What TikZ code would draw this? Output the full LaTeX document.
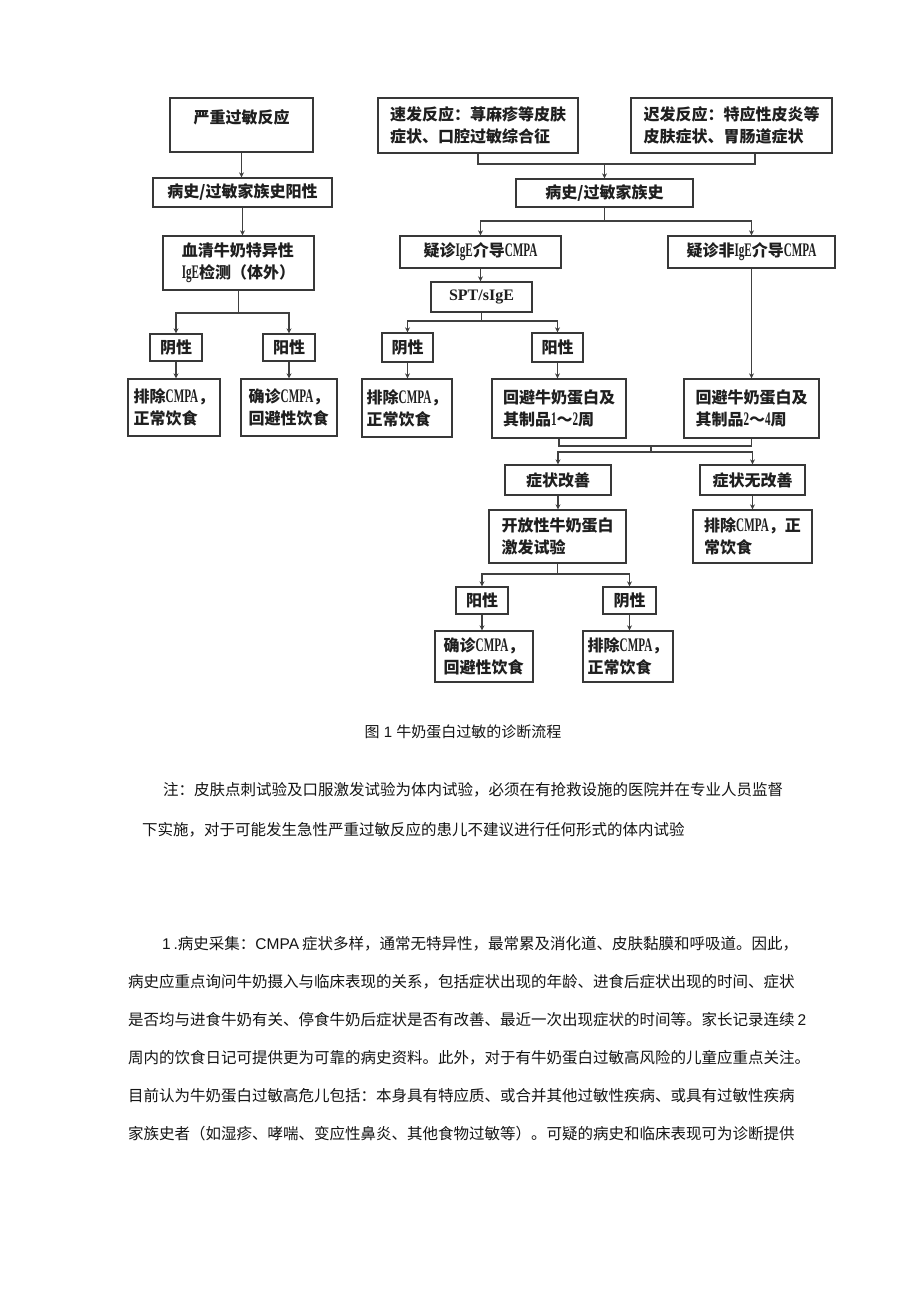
\documentclass[tikz,border=0pt]{standalone}
\usepackage{fontspec}
\usetikzlibrary{arrows.meta}
\setmainfont{Noto Sans CJK SC}
\newfontfamily\latc[FakeStretch=0.58, Scale=1.2]{Liberation Serif}
\newfontfamily\latn{Liberation Serif}
\newfontfamily\arialf{Liberation Sans}
\newcommand\lt[1]{{\latc\bfseries #1}}
\newcommand\lts[1]{{\latn\bfseries #1}}
\newcommand\ar[1]{{\arialf #1}}
\XeTeXlinebreaklocale "zh"
\XeTeXlinebreakskip=0pt plus 4pt minus 1.5pt
\tikzset{
  box/.style={draw=black!78, line width=1.3pt, inner sep=0pt, align=left,
    font=\fontsize{16}{22}\selectfont\bfseries, text=black!88},
  bsz/.style 2 args={minimum width=#1pt, minimum height=#2pt},
  conn/.style={draw=black!75, line width=1.2pt},
  arr/.style={conn, -{Stealth[length=5pt,width=5pt]}},
  txt/.style={inner sep=0pt, font=\fontsize{15.5}{18}\selectfont, text=black!92},
}
\begin{document}
\begin{tikzpicture}[x=1pt,y=-1pt]
\useasboundingbox (0,0) rectangle (920,1301);
\fill[white] (0,0) rectangle (920,1301);

% left column
\node[box, bsz={143}{54}, text depth=16pt] (A) at (241.5,125) {严重过敏反应};
\node[box, bsz={179}{29}] (B) at (242.5,192.5) {病史/过敏家族史阳性};
\node[box, bsz={151}{54}] (C) at (238.5,263) {血清牛奶特异性\\\lt{IgE}检测（体外）};
\node[box, bsz={52}{27}] (D) at (176,347.5) {阴性};
\node[box, bsz={52}{27}] (E) at (289,347.5) {阳性};
\node[box, bsz={92}{57}] (F) at (174,407.5) {排除\lt{CMPA}，\\正常饮食};
\node[box, bsz={96}{57}] (G) at (289,407.5) {确诊\lt{CMPA}，\\回避性饮食};

% right part
\node[box, bsz={200}{55}] (H) at (478,125.5) {速发反应：荨麻疹等皮肤\\症状、口腔过敏综合征};
\node[box, bsz={201}{55}] (I) at (731.5,125.5) {迟发反应：特应性皮炎等\\皮肤症状、胃肠道症状};
\node[box, bsz={177}{28}] (J) at (604.5,193) {病史/过敏家族史};
\node[box, bsz={161}{32}] (K) at (480.5,252) {疑诊\lt{IgE}介导\lt{CMPA}};
\node[box, bsz={167}{32}] (L) at (751.5,252) {疑诊非\lt{IgE}介导\lt{CMPA}};
\node[box, bsz={101}{30}] (M) at (481.5,297) {\lts{SPT/sIgE}};
\node[box, bsz={51}{29}] (N) at (407.5,347.5) {阴性};
\node[box, bsz={51}{29}] (O) at (557.5,347.5) {阳性};
\node[box, bsz={90}{58}] (P) at (407,408) {排除\lt{CMPA}，\\正常饮食};
\node[box, bsz={134}{59}] (Q) at (559,408.5) {回避牛奶蛋白及\\其制品\lt{1}～\lt{2}周};
\node[box, bsz={135}{59}] (R) at (751.5,408.5) {回避牛奶蛋白及\\其制品\lt{2}～\lt{4}周};
\node[box, bsz={106}{30}] (S) at (558,480) {症状改善};
\node[box, bsz={105}{30}] (T) at (752.5,480) {症状无改善};
\node[box, bsz={137}{53}] (U) at (557.5,536.5) {开放性牛奶蛋白\\激发试验};
\node[box, bsz={119}{53}] (V) at (752.5,536.5) {排除\lt{CMPA}，正\\常饮食};
\node[box, bsz={52}{27}] (W) at (482,600.5) {阳性};
\node[box, bsz={53}{27}] (X) at (629.5,600.5) {阴性};
\node[box, bsz={98}{51}] (Y) at (484,656.5) {确诊\lt{CMPA}，\\回避性饮食};
\node[box, bsz={90}{51}] (Z) at (628,656.5) {排除\lt{CMPA}，\\正常饮食};

% connectors, left column
\draw[arr] (A.south) -- (A.south |- B.north);
\draw[arr] (B.south) -- (B.south |- C.north);
\coordinate (cs) at (C.south |- 0,313);
\draw[conn] (C.south) -- (cs);
\draw[arr] (cs) -| (D.north);
\draw[arr] (cs) -| (E.north);
\draw[arr] (D.south) -- (D.south |- F.north);
\draw[arr] (E.south) -- (E.south |- G.north);

% connectors, right part
\coordinate (hj) at (J.north |- 0,164);
\coordinate (ib) at ([xshift=23.5pt]I.south);
\draw[conn] (H.south) |- (hj) -| (ib);
\draw[arr] (hj) -- (J.north);
\coordinate (js) at (J.south |- 0,221);
\draw[conn] (J.south) -- (js);
\draw[arr] (js) -| (K.north);
\draw[arr] (js) -| (L.north);
\draw[arr] (K.south) -- (K.south |- M.north);
\draw[arr] (L.south) -- (L.south |- R.north);
\coordinate (ms) at (M.south |- 0,321);
\draw[conn] (M.south) -- (ms);
\draw[arr] (ms) -| (N.north);
\draw[arr] (ms) -| (O.north);
\draw[arr] (N.south) -- (N.south |- P.north);
\draw[arr] (O.south) -- (O.south |- Q.north);
\coordinate (qr) at (651,446);
\coordinate (st) at (651,452);
\draw[conn] (Q.south) |- (qr) -| (R.south);
\draw[conn] (qr) -- (st);
\draw[arr] (st) -| (S.north);
\draw[arr] (st) -| (T.north);
\draw[arr] (S.south) -- (S.south |- U.north);
\draw[arr] (T.south) -- (T.south |- V.north);
\coordinate (us) at (U.south |- 0,574);
\draw[conn] (U.south) -- (us);
\draw[arr] (us) -| (W.north);
\draw[arr] (us) -| (X.north);
\draw[arr] (W.south) -- (W.south |- Y.north);
\draw[arr] (X.south) -- (X.south |- Z.north);

% caption and text
\node[txt, anchor=base, font=\fontsize{15}{18}\selectfont] (cap) at (463,737) {图\ar{ 1 }牛奶蛋白过敏的诊断流程};
\node[txt, anchor=base west] (n1) at (163,795) {注：皮肤点刺试验及口服激发试验为体内试验，必须在有抢救设施的医院并在专业人员监督};
\node[txt, anchor=base west] (n2) at (142,835) {下实施，对于可能发生急性严重过敏反应的患儿不建议进行任何形式的体内试验};

\node[txt, anchor=base west] (p1) at (162,949) {\makebox[635pt][s]{\ar{1 .}病史采集：\ar{CMPA }症状多样，通常无特异性，最常累及消化道、皮肤黏膜和呼吸道。因此，}};
\node[txt, anchor=base west] (p2) at (128,987) {\makebox[668pt][s]{病史应重点询问牛奶摄入与临床表现的关系，包括症状出现的年龄、进食后症状出现的时间、症状}};
\node[txt, anchor=base west] (p3) at (128,1025) {\makebox[664pt][s]{是否均与进食牛奶有关、停食牛奶后症状是否有改善、最近一次出现症状的时间等。家长记录连续\ar{ 2}}};
\node[txt, anchor=base west] (p4) at (128,1063) {\makebox[687pt][s]{周内的饮食日记可提供更为可靠的病史资料。此外，对于有牛奶蛋白过敏高风险的儿童应重点关注。}};
\node[txt, anchor=base west] (p5) at (128,1101) {\makebox[667pt][s]{目前认为牛奶蛋白过敏高危儿包括：本身具有特应质、或合并其他过敏性疾病、或具有过敏性疾病}};
\node[txt, anchor=base west] (p6) at (128,1139) {\makebox[668pt][s]{家族史者（如湿疹、哮喘、变应性鼻炎、其他食物过敏等）。可疑的病史和临床表现可为诊断提供}};
\end{tikzpicture}
\end{document}
